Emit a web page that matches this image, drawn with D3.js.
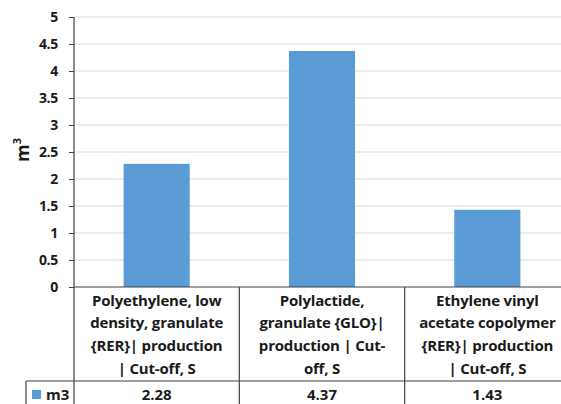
<!DOCTYPE html>
<html><head><meta charset="utf-8">
<script src="https://cdn.jsdelivr.net/npm/d3@7"></script>
<style>body{margin:0;background:#fff}svg{display:block}</style>
</head><body>
<svg id="c" width="561" height="404"></svg>
<script>
const categories = [
  "Polyethylene, low density, granulate {RER}| production | Cut-off, S",
  "Polylactide, granulate {GLO}| production | Cut-off, S",
  "Ethylene vinyl acetate copolymer {RER}| production | Cut-off, S"
];
const categoryLines = [
  ["Polyethylene, low", "density, granulate", "{RER}| production", "| Cut-off, S"],
  ["Polylactide,", "granulate {GLO}|", "production | Cut-", "off, S"],
  ["Ethylene vinyl", "acetate copolymer", "{RER}| production", "| Cut-off, S"]
];
const seriesName = "m3";
const values = [2.28, 4.37, 1.43];
const yTicks = [0, 0.5, 1, 1.5, 2, 2.5, 3, 3.5, 4, 4.5, 5];

const svg = d3.select("#c");
const font = "'Open Sans', sans-serif";
const x0 = 74, x1 = 570, yTop = 17, yBot = 287;
const x = d3.scaleBand().domain(categories).range([x0, x1]).paddingInner(0).paddingOuter(0);
const y = d3.scaleLinear().domain([0, 5]).range([yBot, yTop]);

// gridlines
svg.append("g").selectAll("line").data(yTicks.filter(d => d > 0)).join("line")
  .attr("x1", x0).attr("x2", 561).attr("y1", d => y(d)).attr("y2", d => y(d))
  .attr("stroke", "#d9d9d9").attr("stroke-width", 1.2);

// bars
const bw = x.bandwidth() * 0.4;
svg.append("g").selectAll("rect").data(values).join("rect")
  .attr("x", (d, i) => x(categories[i]) + (x.bandwidth() - bw) / 2)
  .attr("width", bw)
  .attr("y", d => y(d)).attr("height", d => y(0) - y(d))
  .attr("fill", "#5b9bd5");

// y axis
const ya = svg.append("g").attr("transform", `translate(${x0},0)`)
  .call(d3.axisLeft(y).tickValues(yTicks).tickSize(5).tickPadding(11).tickFormat(d3.format("")));
ya.select(".domain").remove();
ya.selectAll(".tick line").attr("stroke", "#404040");
ya.selectAll(".tick text").attr("font-family", font).attr("font-weight", "bold")
  .attr("font-size", 14).attr("fill", "#1a1a1a").attr("letter-spacing", -0.3);
svg.append("line").attr("x1", x0).attr("x2", x0).attr("y1", yTop).attr("y2", 404)
  .attr("stroke", "#404040").attr("stroke-width", 1.2);

// y title
const yt = svg.append("text").attr("transform", "translate(29,150) rotate(-90)")
  .attr("text-anchor", "middle").attr("font-family", font).attr("font-weight", "bold")
  .attr("font-size", 18).attr("fill", "#1a1a1a");
yt.append("tspan").text("m");
yt.append("tspan").attr("font-size", 11).attr("dy", -8).text("3");

// data table
const tbl = svg.append("g");
const lc = "#404040";
tbl.append("line").attr("x1", x0).attr("x2", 561).attr("y1", yBot).attr("y2", yBot).attr("stroke", lc).attr("stroke-width", 1.2);
tbl.append("line").attr("x1", 26).attr("x2", 561).attr("y1", 381).attr("y2", 381).attr("stroke", lc).attr("stroke-width", 1.2);
tbl.append("line").attr("x1", 26).attr("x2", 26).attr("y1", 381).attr("y2", 404).attr("stroke", lc).attr("stroke-width", 1.2);
tbl.selectAll(".vl").data(categories.slice(1)).join("line")
  .attr("x1", d => x(d)).attr("x2", d => x(d)).attr("y1", yBot).attr("y2", 404)
  .attr("stroke", lc).attr("stroke-width", 1.2);

categoryLines.forEach((lines, i) => {
  const cx = x(categories[i]) + x.bandwidth() / 2;
  tbl.append("g").selectAll("text").data(lines).join("text")
    .attr("x", cx).attr("y", (d, j) => 305.5 + j * 22.7)
    .attr("text-anchor", "middle").attr("font-family", font).attr("font-weight", "bold")
    .attr("font-size", 15).attr("fill", "#1a1a1a").attr("letter-spacing", -0.2).text(d => d);
});
tbl.selectAll(".val").data(values).join("text")
  .attr("x", (d, i) => x(categories[i]) + x.bandwidth() / 2).attr("y", 399.5)
  .attr("text-anchor", "middle").attr("font-family", font).attr("font-weight", "bold")
  .attr("font-size", 15).attr("fill", "#1a1a1a").text(d => d3.format(".2f")(d));

// legend key
tbl.append("rect").attr("x", 32).attr("y", 390).attr("width", 9).attr("height", 9).attr("fill", "#5b9bd5");
tbl.append("text").attr("x", 46).attr("y", 399.5).attr("font-family", font).attr("font-weight", "bold")
  .attr("font-size", 15).attr("fill", "#1a1a1a").text(seriesName);
</script>
</body></html>
